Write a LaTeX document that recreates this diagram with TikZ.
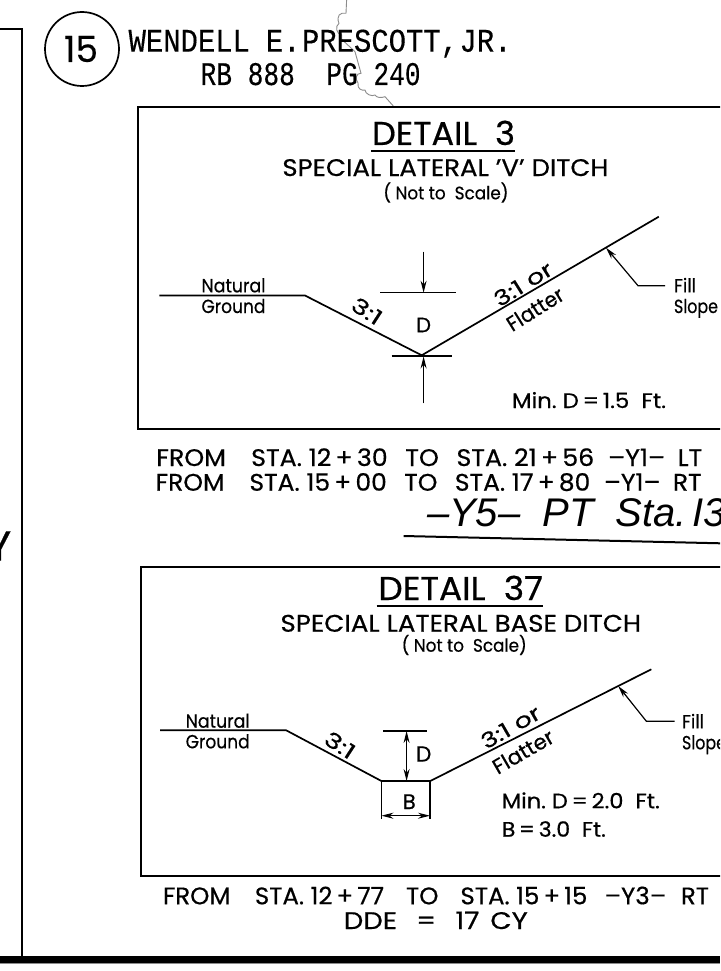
\documentclass[tikz,border=0pt]{standalone}
\usepackage{fontspec}
\usepackage{graphicx}
\setmainfont{Poppins}[FakeBold=0.5]
\newfontfamily\cadmono{Liberation Mono}[FakeBold=0.3]
\newfontfamily\cadital{Liberation Sans}
\usetikzlibrary{arrows.meta}
\newcommand\fw[2]{\resizebox{#1pt}{\height}{#2}}
\newcommand\sz[1]{\fontsize{#1}{#1}\selectfont}
\tikzset{
  x=1pt,y=-1pt,
  frameline/.style={draw=black,line width=2pt},
  ground/.style={draw=black,line width=1.7pt,line join=round},
  dimline/.style={draw=black,line width=1.2pt},
  arrowed/.style={draw=black,line width=1.2pt,-{Stealth[length=12pt,width=6pt]}},
  bothways/.style={draw=black,line width=1.2pt,{Stealth[length=12pt,width=6pt]}-{Stealth[length=12pt,width=6pt]}},
  txt/.style={inner sep=0pt,outer sep=0pt,anchor=base west,text=black},
  ctr/.style={inner sep=0pt,outer sep=0pt,anchor=center,text=black},
  squig/.style={draw=black!45,line width=0.9pt},
}
\begin{document}
\begin{tikzpicture}
\useasboundingbox (0,0) rectangle (720,971);
\clip (0,0) rectangle (720,971);
\fill[white] (0,0) rectangle (720,971);
% squiggle
\coordinate (s0) at (346.7,-2); \coordinate (s1) at (346,13.3);
\draw[squig] (s0) -- (s1) .. controls (340,12) and (336,16) .. (339,23.3)
 .. controls (335,26) and (336,34) .. (341.7,35)
 -- (341.7,39.3) -- (355,51.7) -- (361,73.3)
 .. controls (356,73) and (355,79) .. (358,83)
 .. controls (357,89) and (362,91) .. (365,90)
 .. controls (365,94) and (372,97) .. (375,95)
 .. controls (377,98) and (381,98) .. (385,96.7)
 -- (393.3,106);
% left frame
\coordinate (fa) at (-5,29.5); \coordinate (fb) at (21.5,29.5); \coordinate (fc) at (21.5,956);
\draw[frameline] (fa)--(fb)--(fc);
\node[ctr] (bigY) at (-1,546) {\sz{42}Y};
% circle
\node[draw=black,line width=1.7pt,circle,minimum size=74pt,inner sep=0pt] (num) at (82,49) {};
\node[ctr] (numt) at (81,49) {\sz{36}\fw{34}{15}};
% title lines
\node[txt] (own) at (128.6,51.7) {\cadmono\sz{33}\fw{383}{WENDELL\hspace{.55em}E.\hspace{.05em}PRESCOTT,\hspace{.05em}JR.}};
\node[txt] (rb) at (200.6,85) {\cadmono\sz{33}\fw{220}{RB 888\ \ PG 240}};
% detail 3
\coordinate (b3a) at (725,107); \coordinate (b3b) at (138,107); \coordinate (b3c) at (138,429); \coordinate (b3d) at (725,429);
\draw[frameline] (b3a)--(b3b)--(b3c)--(b3d);
\node[txt] (d3t) at (372,145) {\sz{33}\fw{143}{DETAIL\ \ 3}};
\draw[line width=1.7pt] (371,150.7) -- (515,150.7);
\node[txt] (d3s) at (282.4,176) {\sz{24}\fw{326}{SPECIAL\ LATERAL\ 'V'\ DITCH}};
\node[txt] (d3n) at (383.4,199.3) {\sz{18}\fw{125}{( Not to\ \ Scale)}};
\coordinate (g1) at (159.4,295.5); \coordinate (g2) at (305,295.5); \coordinate (g3) at (421.7,355.3); \coordinate (g4) at (658.8,216.7);
\draw[ground] (g1)--(g2)--(g3)--(g4);
\coordinate (t1) at (380.3,292.7); \coordinate (t2) at (455.5,292.7); \draw[dimline] (t1)--(t2);
\coordinate (t3) at (391.6,356); \coordinate (t4) at (451.8,356); \draw[dimline] (t3)--(t4);
\coordinate (a1) at (423.6,251.7); \coordinate (a2) at (423.6,292.7); \draw[arrowed] (a1)--(a2);
\coordinate (a3) at (423.6,403.3); \coordinate (a4) at (423.6,356.5); \draw[arrowed] (a3)--(a4);
\coordinate (l1) at (665,285.7); \coordinate (l2) at (638,285.7); \coordinate (l3) at (606,247.7);
\draw[arrowed] (l1)--(l2)--(l3);
\node[txt] (n1) at (201.5,292.3) {\sz{19}\fw{64}{Natural}};
\node[txt] (n2) at (201.5,313) {\sz{19}\fw{64}{Ground}};
\node[txt] (n3) at (674,292.3) {\sz{19}\fw{22}{Fill}};
\node[txt] (n4) at (674,313) {\sz{19}\fw{44}{Slope}};
\node[ctr] (n5) at (423.6,325) {\sz{21}D};
\node[ctr,rotate=-33] (n6) at (367,311) {\sz{21}\fw{32}{3:1}};
\node[ctr,rotate=32] (n7) at (523,284) {\sz{21}\fw{65}{3:1 or}};
\node[ctr,rotate=32] (n8) at (535,309) {\sz{21}\fw{63}{Flatter}};
\node[txt] (n9) at (512,408) {\sz{21}\fw{154}{Min.\ D\,=\,1.5\ \ Ft.}};
% from lines
\node[txt] (f1) at (156.3,466) {\sz{24}\fw{546}{FROM\hspace{1.0em}STA.\ 12\,+\,30\hspace{.7em}TO\hspace{.7em}STA.\ 21\,+\,56\hspace{.55em}–Y1–\hspace{.5em}LT}};
\node[txt] (f2) at (155.6,490.7) {\sz{24}\fw{546}{FROM\hspace{1.0em}STA.\ 15\,+\,00\hspace{.7em}TO\hspace{.7em}STA.\ 17\,+\,80\hspace{.55em}–Y1–\hspace{.5em}RT}};
\node[txt] (y5) at (427,526.7) {\cadital\itshape\sz{40}–Y5–\hspace{.55em}PT\hspace{.55em}Sta.\hspace{.15em}I3};
\coordinate (u1) at (403.6,536); \coordinate (u2) at (725,543.4);
\draw[line width=2pt] (u1)--(u2);
% detail 37
\coordinate (b4a) at (725,567.3); \coordinate (b4b) at (140.5,567.3); \coordinate (b4c) at (140.5,876); \coordinate (b4d) at (725,876);
\draw[frameline] (b4a)--(b4b)--(b4c)--(b4d);
\node[txt] (d4t) at (378.4,600) {\sz{33}\fw{164.5}{DETAIL\ \ 37}};
\draw[line width=1.7pt] (376.5,605.7) -- (543.2,605.7);
\node[txt] (d4s) at (280.5,631.7) {\sz{24}\fw{360.5}{SPECIAL\ LATERAL\ BASE\ DITCH}};
\node[txt] (d4n) at (401.7,651.7) {\sz{18}\fw{125}{( Not to\ \ Scale)}};
\coordinate (h1) at (160,730.3); \coordinate (h2) at (286.2,730.3); \coordinate (h3) at (381.4,781); \coordinate (h4) at (430.3,781); \coordinate (h5) at (651.3,669.3);
\draw[ground] (h1)--(h2)--(h3)--(h4)--(h5);
\coordinate (v1) at (383,731); \coordinate (v2) at (426.6,731); \draw[dimline] (v1)--(v2);
\coordinate (v3) at (406.6,731); \coordinate (v4) at (406.6,781); \draw[bothways] (v3)--(v4);
\coordinate (e1) at (381.4,781); \coordinate (e2) at (381.4,819.3); \draw[dimline] (e1)--(e2);
\coordinate (e3) at (430,781); \coordinate (e4) at (430,819.3); \draw[dimline] (e3)--(e4);
\coordinate (w1) at (381.4,815.7); \coordinate (w2) at (430,815.7); \draw[bothways] (w1)--(w2);
\coordinate (m1) at (674.6,721.3); \coordinate (m2) at (646.4,721.3); \coordinate (m3) at (618.2,686);
\draw[arrowed] (m1)--(m2)--(m3);
\node[txt] (p1) at (185.7,727.7) {\sz{19}\fw{64}{Natural}};
\node[txt] (p2) at (185.7,748.3) {\sz{19}\fw{64}{Ground}};
\node[txt] (p3) at (682,728.3) {\sz{19}\fw{22}{Fill}};
\node[txt] (p4) at (682,749.3) {\sz{19}\fw{44}{Slope}};
\node[ctr] (p5) at (423.6,754) {\sz{22}D};
\node[ctr] (p6) at (409.3,801.7) {\sz{21}B};
\node[ctr,rotate=-33] (p7) at (340,745) {\sz{21}\fw{32}{3:1}};
\node[ctr,rotate=30] (p8) at (510.5,727) {\sz{21}\fw{65}{3:1 or}};
\node[ctr,rotate=30] (p9) at (523,751.5) {\sz{21}\fw{67}{Flatter}};
\node[txt] (p10) at (501.8,808.3) {\sz{21}\fw{158}{Min.\ D\,=\,2.0\ \ Ft.}};
\node[txt] (p11) at (501.8,836.7) {\sz{21}\fw{104}{B\,=\,3.0\ \ Ft.}};
\node[txt] (f3) at (163,904.3) {\sz{24}\fw{546}{FROM\hspace{1.0em}STA.\ 12\,+\,77\hspace{.9em}TO\hspace{.9em}STA.\ 15\,+\,15\hspace{.7em}–Y3–\hspace{.6em}RT}};
\node[txt] (f4) at (343.8,929) {\sz{24}\fw{184}{DDE\hspace{.7em}=\hspace{.7em}17\hspace{.4em}CY}};
% bottom bar
\fill[black] (0,955.5) rectangle (720,963);
\fill[black!45] (0,963) rectangle (720,964);
\end{tikzpicture}
\end{document}
